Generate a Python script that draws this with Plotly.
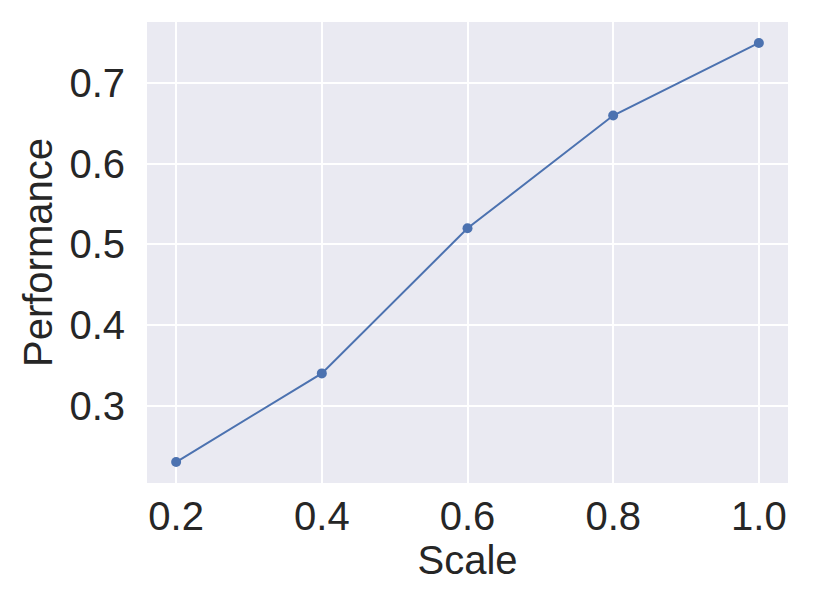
import plotly.graph_objects as go

scale = [0.2, 0.4, 0.6, 0.8, 1.0]
performance = [0.23, 0.34, 0.52, 0.66, 0.75]
x_ticks = [0.2, 0.4, 0.6, 0.8, 1.0]
x_tick_labels = ["0.2", "0.4", "0.6", "0.8", "1.0"]
y_ticks = [0.3, 0.4, 0.5, 0.6, 0.7]
y_tick_labels = ["0.3", "0.4", "0.5", "0.6", "0.7"]

fig = go.Figure()
fig.add_trace(go.Scatter(
    x=scale, y=performance, mode="lines+markers",
    line=dict(color="#4c72b0", width=2),
    marker=dict(color="#4c72b0", size=10),
))

font = "Liberation Sans, Arial, sans-serif"
txt = "#262626"
fs = 40
fig.update_layout(
    width=814, height=610,
    margin=dict(l=147, r=26, t=22, b=127),
    paper_bgcolor="white", plot_bgcolor="#eaeaf2",
    showlegend=False,
    font=dict(family=font, size=fs, color=txt),
)
fig.update_xaxes(
    range=[0.16, 1.04], tickvals=x_ticks, ticktext=x_tick_labels,
    showgrid=True, gridcolor="white", gridwidth=1.5, zeroline=False,
    showline=False, ticks="", ticklabelstandoff=6,
    tickfont=dict(size=fs, family=font, color=txt),
    title=dict(text="Scale", font=dict(size=fs, family=font, color=txt), standoff=6),
)
fig.update_yaxes(
    range=[0.204, 0.776], tickvals=y_ticks, ticktext=y_tick_labels,
    showgrid=True, gridcolor="white", gridwidth=1.5, zeroline=False,
    showline=False, ticks="", ticklabelstandoff=21,
    tickfont=dict(size=fs, family=font, color=txt),
    title=dict(text="Performance", font=dict(size=fs, family=font, color=txt), standoff=4),
)
fig.write_html("out.html", config={"displayModeBar": False},
               post_script="document.body.style.margin='0';document.body.style.overflow='hidden';")
